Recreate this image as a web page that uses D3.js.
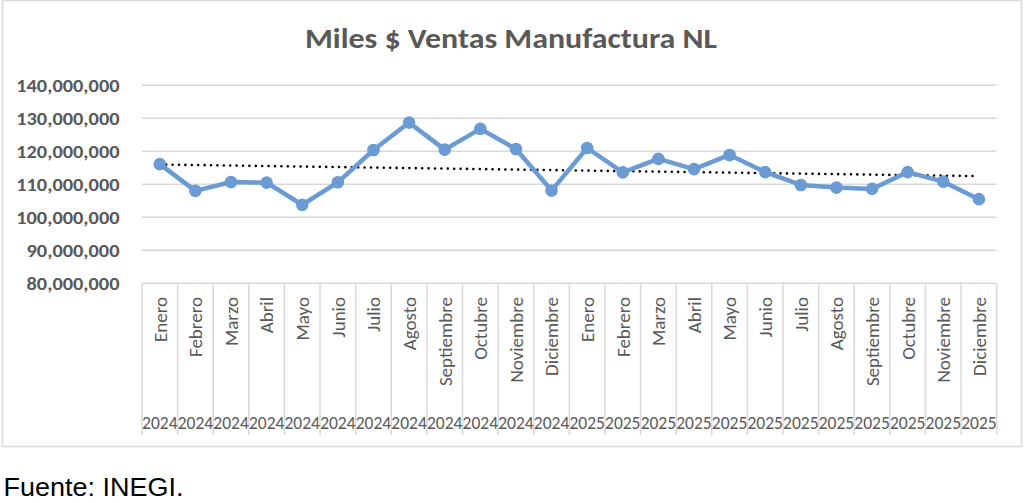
<!DOCTYPE html>
<html><head><meta charset="utf-8">
<script src="https://cdn.jsdelivr.net/npm/d3@7"></script>
<style>html,body{margin:0;padding:0;background:#fff;}svg{display:block;}</style>
</head><body>
<script>
const months = ["Enero","Febrero","Marzo","Abril","Mayo","Junio","Julio","Agosto","Septiembre","Octubre","Noviembre","Diciembre",
"Enero","Febrero","Marzo","Abril","Mayo","Junio","Julio","Agosto","Septiembre","Octubre","Noviembre","Diciembre"];
const years = ["2024","2024","2024","2024","2024","2024","2024","2024","2024","2024","2024","2024",
"2025","2025","2025","2025","2025","2025","2025","2025","2025","2025","2025","2025"];
const ventas = [116.1,108.0,110.7,110.5,103.8,110.6,120.4,128.7,120.5,126.8,120.7,108.1,
121.0,113.6,117.7,114.6,118.9,113.7,109.8,109.0,108.6,113.7,110.8,105.5].map(v=>v*1e6);
const yTicks = [80e6,90e6,100e6,110e6,120e6,130e6,140e6];
const title = "Miles $ Ventas Manufactura NL";
const footer = "Fuente: INEGI.";

(function(){
const W=1024,H=503;
const svg=d3.select("body").append("svg").attr("width",W).attr("height",H);
const F="Carlito, Calibri, Lato, sans-serif";
const grey="#595959";
svg.append("rect").attr("x",2.5).attr("y",0.5).attr("width",1019).attr("height",446).attr("fill","#fff").attr("stroke","#d9d9d9").attr("stroke-width",1.5);

const pL=142,pR=996.7,pT=85.3,pB=283.3;
const x=d3.scaleBand().domain(d3.range(months.length)).range([pL,pR]);
const y=d3.scaleLinear().domain([80e6,140e6]).range([pB,pT]);

svg.append("g").selectAll("line").data(yTicks).join("line")
  .attr("x1",pL).attr("x2",pR).attr("y1",d=>y(d)).attr("y2",d=>y(d))
  .attr("stroke","#d9d9d9").attr("stroke-width",1.5);

const fmt=d3.format(",");
svg.append("g").selectAll("text").data(yTicks).join("text")
  .attr("transform",d=>`translate(119.5,${y(d)}) scale(1.1,1)`)
  .attr("dy","0.36em").attr("text-anchor","end")
  .attr("font-family",F).attr("font-weight","bold").attr("font-size",18.5).attr("fill",grey)
  .text(d=>fmt(d));

const bounds=d3.range(months.length+1).map(i=> i<months.length? x(i): pR);
svg.append("g").selectAll("line").data(bounds).join("line")
  .attr("x1",d=>d).attr("x2",d=>d).attr("y1",pB).attr("y2",435)
  .attr("stroke","#d9d9d9").attr("stroke-width",1.5);

const cx=i=>x(i)+x.bandwidth()/2;
svg.append("g").selectAll("text").data(months).join("text")
  .attr("transform",(d,i)=>`translate(${cx(i)},297) rotate(-90)`)
  .attr("dy","0.36em").attr("text-anchor","end")
  .attr("font-family",F).attr("font-size",19).attr("fill",grey).text(d=>d);
svg.append("g").selectAll("text").data(years).join("text")
  .attr("x",(d,i)=>cx(i)).attr("y",423).attr("dy","0.36em").attr("text-anchor","middle")
  .attr("font-family",F).attr("font-size",17.5).attr("fill",grey).text(d=>d);

const n=ventas.length, xs=d3.range(n);
const mx=d3.mean(xs), my=d3.mean(ventas);
const slope=d3.sum(xs,i=>(i-mx)*(ventas[i]-my))/d3.sum(xs,i=>(i-mx)*(i-mx));
const icpt=my-slope*mx;
svg.append("line").attr("x1",cx(0)).attr("x2",cx(n-1)-5)
  .attr("y1",y(icpt)).attr("y2",y(icpt+slope*(n-1)))
  .attr("stroke","#000").attr("stroke-width",2.6).attr("stroke-linecap","round")
  .attr("stroke-dasharray","0 6.4");

const blue="#6b9bd3";
svg.append("path").datum(ventas)
  .attr("d",d3.line().x((d,i)=>cx(i)).y(d=>y(d)))
  .attr("fill","none").attr("stroke",blue).attr("stroke-width",4.5).attr("stroke-linejoin","round");
svg.append("g").selectAll("circle").data(ventas).join("circle")
  .attr("cx",(d,i)=>cx(i)).attr("cy",d=>y(d)).attr("r",6.3).attr("fill",blue);

svg.append("text").attr("x",305).attr("y",48).attr("textLength",412).attr("lengthAdjust","spacingAndGlyphs")
  .attr("font-family",F).attr("font-weight","bold").attr("font-size",27.5).attr("fill",grey).text(title);
svg.append("text").attr("x",3.5).attr("y",496).attr("textLength",180).attr("lengthAdjust","spacingAndGlyphs")
  .attr("font-family","'Liberation Sans', Arial, sans-serif")
  .attr("font-size",25).attr("fill","#000").text(footer);
})();
</script>
</body></html>
